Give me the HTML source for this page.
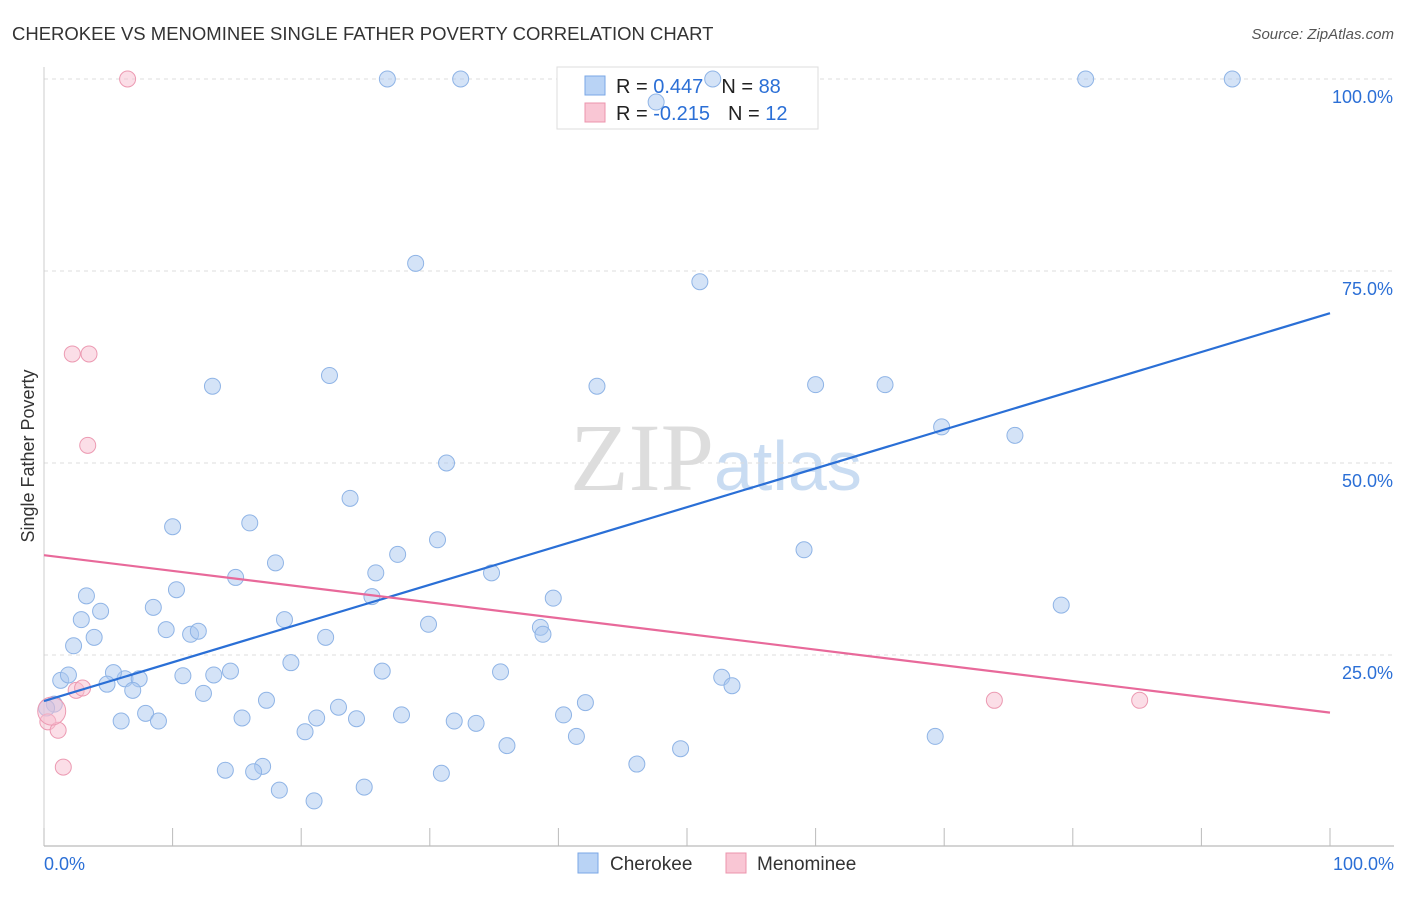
<!DOCTYPE html>
<html><head><meta charset="utf-8"><style>
body{margin:0;background:#fff;font-family:"Liberation Sans",sans-serif}
svg text{font-family:"Liberation Sans",sans-serif}
</style></head><body>
<svg id="c" width="1406" height="892" xmlns="http://www.w3.org/2000/svg">
<text x="12" y="40" font-size="18.5" fill="#333">CHEROKEE VS MENOMINEE SINGLE FATHER POVERTY CORRELATION CHART</text>
<text x="1394" y="39" font-size="15" fill="#555" font-style="italic" text-anchor="end">Source: ZipAtlas.com</text>
<text x="714" y="490" font-size="96" fill="#ddd" text-anchor="end" style="font-family:'Liberation Serif',serif">ZIP</text>
<text x="714" y="490" font-size="70" fill="#c9dcf2">atlas</text>
<text transform="translate(34,456) rotate(-90)" font-size="18" fill="#333" text-anchor="middle">Single Father Poverty</text>
<g id="grid"></g>
<g>
<rect x="557" y="67" width="261" height="62" fill="#fff" stroke="#ddd"/>
<rect x="585" y="76" width="20" height="19" fill="#b9d3f5" stroke="#7aa7e6"/>
<rect x="585" y="103" width="20" height="19" fill="#f9c6d4" stroke="#ec94ad"/>
<text x="616" y="93" font-size="20" fill="#222">R = <tspan fill="#2b6fd6"> 0.447</tspan><tspan dx="18">N = </tspan><tspan fill="#2b6fd6">88</tspan></text>
<text x="616" y="120" font-size="20" fill="#222">R = <tspan fill="#2b6fd6">-0.215</tspan><tspan dx="18">N = </tspan><tspan fill="#2b6fd6"> 12</tspan></text>
</g>
<g id="pts"></g><g id="lines"></g>
<g>
<rect x="578" y="853" width="20" height="20" fill="#b9d3f5" stroke="#7aa7e6"/>
<text x="610" y="870" font-size="19" fill="#333">Cherokee</text>
<rect x="726" y="853" width="20" height="20" fill="#f9c6d4" stroke="#ec94ad"/>
<text x="757" y="870" font-size="19" fill="#333">Menominee</text>
</g>
</svg>
<script>
const yTicks=[25,50,75,100];
const xTickLabels=["0.0%","100.0%"];
const blueX=[26.7,32.4,52,81,92.4,47.6,28.9,51,22.2,13.1,43,60,65.4,69.8,75.5,31.3,23.8,10,16,30.6,27.5,59.1,18,25.8,34.8,14.9,10.3,3.3,39.6,25.5,79.1,8.5,4.4,2.9,18.7,9.5,29.9,11.4,12,38.6,38.8,3.9,21.9,2.3,19.2,1.3,6.3,7.4,1.9,5.4,10.8,13.2,14.5,26.3,35.5,52.7,53.5,4.9,6.9,12.4,0.8,17.3,42.1,22.9,7.9,15.4,21.2,24.3,27.8,40.4,6,8.9,31.9,33.6,20.3,41.4,69.3,17,36,49.5,14.1,16.3,46.1,30.9,18.3,24.9,21,0.2];
const blueY=[100,100,100,100,100,97,76,73.6,61.4,60,60,60.2,60.2,54.7,53.6,50,45.4,41.7,42.2,40,38.1,38.7,37,35.7,35.7,35.1,33.5,32.7,32.4,32.6,31.5,31.2,30.7,29.6,29.6,28.3,29,27.7,28.1,28.6,27.7,27.3,27.3,26.2,24,21.7,21.9,21.9,22.4,22.7,22.3,22.4,22.9,22.9,22.8,22.1,21,21.2,20.4,20,18.6,19.1,18.8,18.2,17.4,16.8,16.8,16.7,17.2,17.2,16.4,16.4,16.4,16.1,15,14.4,14.4,10.5,13.2,12.8,10,9.8,10.8,9.6,7.4,7.8,6,18.1];
const pinkX=[6.5,2.2,3.5,3.4,2.5,3,0.3,1.1,1.5,73.9,85.2,0.6];
const pinkY=[100,64.2,64.2,52.3,20.4,20.7,16.3,15.2,10.4,19.1,19.1,17.7];
const blueTrend=[19,69.5];
const pinkTrend=[38,17.5];
const X=v=>44+v*12.86, Y=v=>847-v*7.68;
const ns="http://www.w3.org/2000/svg";
function mk(p,t,a){const e=document.createElementNS(ns,t);for(const k in a)e.setAttribute(k,a[k]);p.appendChild(e);return e;}
const g=document.getElementById('grid');
yTicks.forEach(t=>{
 const l=mk(g,'line',{x1:44,x2:1394,y1:Y(t),y2:Y(t),stroke:'#ddd','stroke-dasharray':'4,4'});
 
 
 const tx=mk(g,'text',{x:1393,y:Y(t)+24,'font-size':18,fill:'#2b6fd6','text-anchor':'end'});tx.textContent=t.toFixed(1)+'%';
 
 
});
const ax=mk(g,'line',{x1:44,x2:1394,y1:846,y2:846,stroke:'#aaa'});


const ay=mk(g,'line',{x1:44,x2:44,y1:67,y2:846,stroke:'#ccc'});


for(let i=0;i<=10;i++){const t=mk(g,'line',{x1:X(i*10),x2:X(i*10),y1:828,y2:846,stroke:'#bbb'});
 
 }
[[0,'start',44],[1,'end',1394]].forEach(([i,a,x])=>{const t=mk(g,'text',{x:x,y:870,'font-size':18,fill:'#2b6fd6','text-anchor':a});t.textContent=xTickLabels[i];
 
 });
const p=document.getElementById('pts');
blueX.forEach((v,i)=>{const c=mk(p,'circle',{cx:X(v),cy:Y(blueY[i]),r:8,fill:'rgba(170,200,240,0.5)',stroke:'#8fb4e6'});
 
 });
pinkX.forEach((v,i)=>{const c=mk(p,'circle',{cx:X(v),cy:Y(pinkY[i]),r:i==11?14:8,fill:'rgba(248,190,208,0.5)',stroke:'#ec9ab2'});
 
 });
const L=document.getElementById('lines');
const b=mk(L,'line',{x1:X(0),y1:Y(blueTrend[0]),x2:X(100),y2:Y(blueTrend[1]),stroke:'#2a6fd6','stroke-width':2.2});


const q=mk(L,'line',{x1:X(0),y1:Y(pinkTrend[0]),x2:X(100),y2:Y(pinkTrend[1]),stroke:'#e8699a','stroke-width':2.2});


</script>
</body></html>
